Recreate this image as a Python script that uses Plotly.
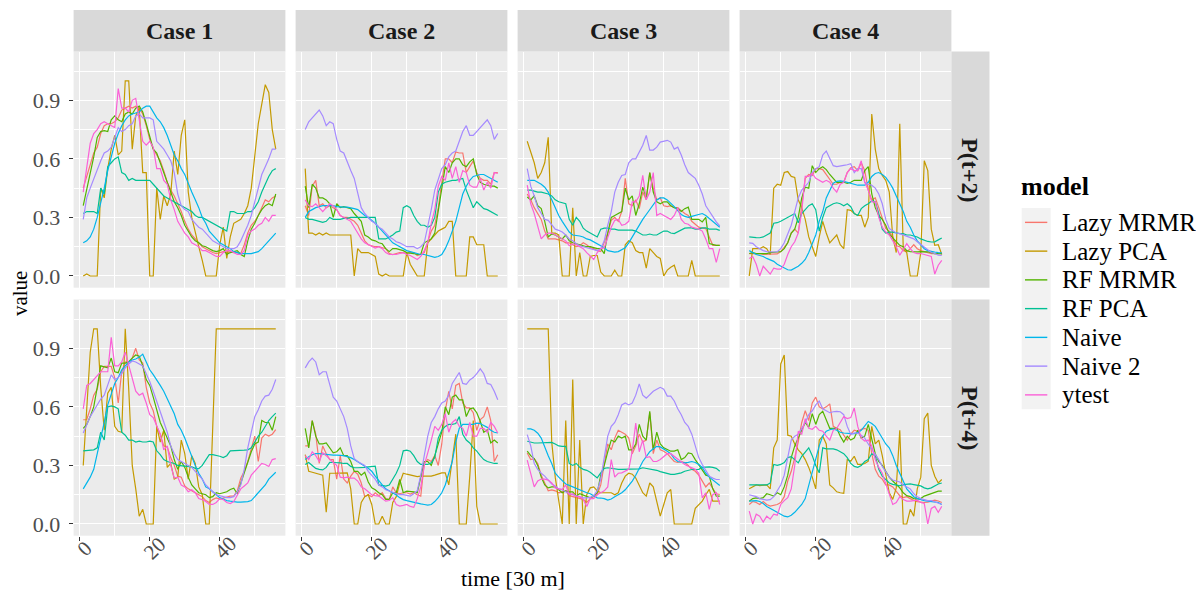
import plotly.graph_objects as go

PAGE_W, PAGE_H = 1204, 592
OFF = 8  # browser body margin offset
W, H = PAGE_W - OFF, PAGE_H - OFF
time = list(range(1, 57))
models = ["Lazy MRMR", "Lazy PCA", "RF MRMR", "RF PCA", "Naive", "Naive 2", "ytest"]
colors = ["#F8766D", "#C49A00", "#53B400", "#00C094", "#00B6EB", "#A58AFF", "#FB61D7"]
cases = ["Case 1", "Case 2", "Case 3", "Case 4"]
horizons = ["P(t+2)", "P(t+4)"]
x_ticks = [0, 20, 40]
y_ticks = [0.0, 0.3, 0.6, 0.9]
y_tick_text = ["0.0", "0.3", "0.6", "0.9"]

# ---------------- P(t+2) ----------------
c1_t2_lazy_mrmr = [.45,.51,.58,.63,.66,.73,.77,.78,.78,.79, .81,.85,.86,.87,.86,.87,.86,.83,.77,.70,
                   .65,.62,.59,.54,.48,.44,.41,.37,.33,.28, .24,.21,.19,.17,.15,.14,.13,.12,.115,.12,
                   .125,.12,.125,.12,.12,.115,.16,.22,.26,.28, .31,.35,.39,.38,.40,.41]
c1_t2_lazy_pca = [0,.01,0,0,0,.45,.40,.55,.65,.72, .62,.64,1.0,1.0,.65,.82,.86,.53,.53,0,
                  0,.45,.29,.41,.36,.42,.64,.52,.72,.80, .43,.30,.22,.15,.08,0,0,0,0,.16,
                  .25,.09,.20,.27,.28,.29,.32,.36,.45,.62, .78,.88,.98,.94,.75,.65]
c1_t2_rf_mrmr = [.36,.44,.52,.61,.71,.74,.745,.74,.80,.82, .80,.79,.83,.84,.83,.86,.87,.84,.78,.72,
                 .65,.63,.58,.53,.47,.43,.38,.35,.31,.26, .23,.20,.18,.17,.155,.15,.14,.13,.125,.13,
                 .14,.11,.12,.125,.13,.11,.10,.18,.24,.27, .31,.34,.36,.37,.36,.42]
c1_t2_rf_pca = [.32,.33,.33,.33,.32,.45,.42,.56,.58,.60, .61,.53,.52,.49,.50,.49,.49,.49,.49,.49,
                .47,.45,.43,.41,.40,.39,.38,.37,.36,.35, .34,.33,.31,.30,.30,.29,.28,.27,.26,.25,
                .24,.23,.33,.33,.32,.32,.32,.33,.33,.35, .38,.43,.47,.51,.54,.55]
c1_t2_naive = [.17,.18,.20,.24,.30,.37,.45,.54,.61,.68, .73,.77,.80,.82,.83,.835,.84,.86,.87,.87,
               .84,.81,.79,.76,.72,.67,.62,.59,.55,.52, .47,.43,.39,.35,.30,.27,.23,.21,.19,.17,
               .16,.15,.14,.125,.12,.115,.115,.115,.115,.12, .125,.14,.16,.18,.20,.22]
c1_t2_naive2 = [.29,.40,.45,.50,.54,.59,.63,.64,.66,.71, .76,.74,.75,.77,.78,.82,.83,.81,.81,.81,
                .80,.69,.67,.65,.62,.59,.53,.42,.36,.34, .33,.29,.27,.25,.24,.22,.20,.18,.17,.16,
                .15,.14,.14,.14,.15,.18,.22,.26,.31,.38, .45,.52,.56,.60,.65,.65]
c1_t2_ytest = [.43,.57,.68,.73,.75,.78,.79,.78,.77,.76, .96,.86,.86,.84,.90,.91,.80,.69,.67,.69,
               .66,.55,.55,.49,.47,.39,.34,.28,.25,.22, .20,.17,.16,.15,.13,.13,.12,.11,.10,.10,
               .12,.13,.13,.12,.11,.11,.13,.21,.23,.24, .26,.27,.30,.28,.31,.31]

c2_t2_lazy_mrmr = [.36,.31,.46,.49,.36,.37,.35,.36,.35,.34, .31,.30,.30,.29,.28,.26,.22,.18,.16,.155,
                   .15,.15,.145,.14,.115,.11,.115,.12,.12,.115, .12,.12,.105,.11,.12,.17,.23,.26,.35,.48,
                   .60,.60,.58,.635,.63,.63,.53,.56,.59,.53, .50,.49,.49,.47,.53,.53]
c2_t2_lazy_pca = [.55,.22,.22,.21,.22,.21,.22,.21,.21,.21, .21,.21,.21,.21,0,.14,.12,.12,.12,.11,
                  .10,.01,0,.01,0,0,0,0,0,.12, .06,.03,0,0,0,.17,.19,.21,.23,.24,
                  .25,.28,.28,0,0,0,0,.20,.20,.16, .16,.16,0,0,0,0]
c2_t2_rf_mrmr = [.46,.35,.47,.45,.40,.40,.39,.37,.30,.37, .35,.355,.35,.345,.32,.30,.28,.21,.20,.185,
                 .18,.17,.165,.14,.125,.14,.14,.135,.13,.12, .118,.115,.11,.11,.17,.18,.19,.22,.33,.45,
                 .56,.53,.58,.60,.60,.57,.56,.585,.60,.52, .48,.47,.465,.46,.46,.45]
c2_t2_rf_pca = [.30,.29,.29,.285,.28,.275,.28,.30,.29,.29, .29,.295,.295,.30,.30,.30,.30,.30,.30,.30,
                .30,.19,.19,.19,.20,.21,.225,.23,.35,.36, .35,.31,.28,.26,.26,.25,.26,.30,.43,.47,
                .48,.485,.49,.49,.495,.50,.44,.39,.35,.38, .36,.345,.34,.33,.32,.31]
c2_t2_naive = [.30,.33,.34,.35,.355,.36,.36,.36,.36,.355, .353,.353,.353,.35,.345,.34,.325,.31,.30,.285,
               .27,.25,.23,.21,.19,.17,.16,.15,.14,.13, .125,.12,.115,.11,.11,.105,.10,.095,.10,.11,
               .14,.18,.23,.28,.35,.42,.46,.49,.51,.515, .52,.52,.51,.50,.49,.48]
c2_t2_naive2 = [.75,.79,.81,.83,.85,.82,.77,.79,.78,.70, .64,.63,.58,.54,.50,.42,.35,.32,.30,.28,
                .27,.25,.24,.22,.20,.19,.175,.17,.16,.15, .15,.15,.14,.15,.17,.25,.34,.44,.50,.55,
                .57,.61,.63,.64,.69,.74,.77,.72,.72,.74, .76,.78,.80,.77,.70,.73]
c2_t2_ytest = [.39,.36,.355,.37,.35,.33,.35,.37,.36,.34, .31,.30,.29,.28,.25,.22,.19,.17,.16,.15,
               .143,.15,.14,.12,.11,.11,.11,.115,.12,.11, .105,.095,.085,.10,.13,.17,.27,.34,.46,.51,
               .49,.58,.50,.56,.48,.54,.53,.465,.455,.455, .50,.44,.48,.45,.53,.525]

c3_t2_lazy_mrmr = [.42,.39,.35,.32,.29,.23,.19,.19,.19,.185, .18,.17,.17,.16,.15,.155,.17,.16,.145,.14,
                   .13,.125,.17,.22,.285,.30,.28,.33,.50,.37, .36,.39,.345,.43,.39,.53,.45,.39,.40,.36,
                   .355,.36,.35,.35,.335,.32,.31,.28,.265,.25, .245,.243,.20,.157,.157,.157]
c3_t2_lazy_pca = [.69,.63,.58,.50,.53,.58,.71,.22,.22,.21, 0,0,0,.35,0,.12,0,0,.10,.105,
                  .105,.02,0,0,0,.03,0,0,.16,.18, .17,.13,.12,.12,.04,.14,.12,.10,.09,0,
                  .03,.045,.055,0,0,0,0,.08,0,0, 0,0,0,0,0,0]
c3_t2_rf_mrmr = [.405,.39,.41,.36,.345,.28,.20,.215,.21,.20, .19,.21,.18,.17,.165,.16,.155,.15,.15,.145,
                 .14,.14,.115,.22,.30,.31,.32,.33,.45,.39, .41,.31,.37,.455,.40,.53,.43,.38,.37,.38,
                 .38,.36,.35,.345,.33,.345,.353,.29,.29,.29, .277,.30,.166,.16,.157,.157]
c3_t2_rf_pca = [.44,.44,.435,.43,.43,.425,.42,.41,.39,.38, .375,.37,.29,.26,.30,.28,.245,.23,.22,.21,
                .20,.24,.245,.245,.24,.24,.235,.235,.235,.235, .235,.23,.22,.21,.21,.215,.21,.21,.22,.23,
                .23,.22,.217,.225,.235,.245,.246,.246,.24,.24, .246,.246,.24,.24,.24,.234]
c3_t2_naive = [.49,.49,.49,.48,.47,.455,.43,.39,.35,.31, .28,.25,.225,.21,.208,.205,.20,.19,.185,.175,
               .165,.155,.145,.13,.125,.122,.125,.135,.145,.17, .20,.235,.265,.29,.315,.34,.365,.39,.40,.40,
               .39,.375,.355,.335,.315,.305,.30,.305,.31,.315, .32,.31,.295,.28,.26,.25]
c3_t2_naive2 = [.55,.46,.41,.35,.32,.29,.285,.26,.24,.234, .225,.21,.19,.18,.165,.155,.15,.145,.14,.135,
                .13,.14,.18,.26,.33,.43,.48,.515,.52,.58, .60,.60,.635,.67,.72,.645,.645,.66,.686,.69,
                .695,.686,.65,.66,.62,.57,.53,.515,.50,.465, .42,.36,.33,.30,.277,.256]
c3_t2_ytest = [.465,.37,.32,.26,.19,.21,.22,.22,.21,.20, .19,.18,.155,.165,.16,.15,.14,.12,.10,.085,
               .12,.14,.145,.20,.25,.285,.29,.26,.265,.28, .38,.38,.41,.515,.39,.43,.53,.31,.32,.31,
               .30,.29,.31,.35,.29,.27,.265,.25,.245,.24, .23,.19,.14,.14,.07,.14]

c4_t2_lazy_mrmr = [.115,.115,.115,.115,.11,.11,.11,.11,.113,.125, .15,.17,.22,.24,.22,.36,.50,.52,.515,.55,
                   .55,.545,.52,.49,.47,.47,.48,.48,.53,.555, .56,.54,.58,.54,.44,.39,.40,.35,.30,.243,
                   .23,.20,.155,.15,.13,.125,.14,.16,.14,.13, .125,.12,.115,.115,.115,.115]
c4_t2_lazy_pca = [0,.14,.14,.14,.15,.14,.11,.45,.47,.465, .53,.535,.51,.505,.39,.35,.29,.20,.15,.10,
                  .20,.28,.22,.17,.19,.21,.16,.14,.34,.336, .32,.31,.31,.25,.30,.83,.65,.55,.515,.49,
                  .43,.20,.12,.78,.14,.12,0,0,0,.12, .59,.54,.24,.157,.16,.11]
c4_t2_rf_mrmr = [.115,.12,.115,.115,.115,.115,.12,.123,.123,.125, .14,.17,.22,.24,.30,.40,.455,.45,.565,.53,
                 .55,.56,.545,.52,.50,.48,.48,.48,.475,.48, .49,.49,.49,.54,.56,.42,.35,.31,.29,.26,
                 .215,.195,.175,.157,.15,.13,.125,.123,.124,.125, .126,.124,.12,.115,.115,.115]
c4_t2_rf_pca = [.20,.20,.197,.196,.20,.21,.22,.27,.273,.28, .29,.30,.31,.32,.273,.32,.34,.36,.37,.34,
                .23,.30,.35,.36,.37,.375,.37,.36,.37,.355, .32,.31,.345,.36,.37,.385,.38,.32,.24,.22,
                .225,.225,.22,.217,.217,.21,.21,.205,.20,.19, .183,.177,.174,.175,.185,.195]
c4_t2_naive = [.13,.12,.11,.105,.10,.09,.083,.075,.06,.05, .04,.032,.03,.04,.05,.065,.085,.12,.17,.21,
               .28,.33,.40,.44,.475,.485,.487,.485,.48,.475, .47,.465,.465,.465,.48,.51,.525,.53,.52,.505,
               .48,.45,.41,.37,.33,.28,.25,.21,.18,.16, .14,.13,.125,.123,.12,.118]
c4_t2_naive2 = [.17,.167,.15,.14,.13,.125,.123,.123,.125,.14, .17,.22,.26,.33,.40,.44,.46,.48,.53,.55,
                .56,.62,.64,.60,.565,.56,.565,.567,.57,.575, .53,.55,.55,.48,.47,.465,.45,.42,.37,.29,
                .243,.23,.22,.217,.21,.205,.20,.19,.175,.16, .145,.13,.12,.115,.107,.106]
c4_t2_ytest = [.09,.10,.06,0,.05,.03,.01,.04,.035,.035, .06,.11,.15,.175,.22,.33,.51,.51,.525,.50,
               .49,.48,.49,.48,.45,.43,.47,.48,.53,.55, .54,.54,.59,.48,.44,.38,.38,.30,.25,.225,
               .21,.183,.15,.106,.14,.166,.14,.12,.115,.115, .11,.105,.10,.01,.055,.08]

# ---------------- P(t+4) ----------------
c1_t4_lazy_mrmr = [.534,.535,.59,.66,.69,.78,.807,.807,.807,.75, .62,.78,.83,.832,.85,.90,.84,.825,.70,.62,
                   .58,.50,.46,.40,.395,.34,.30,.245,.24,.195, .18,.17,.16,.152,.14,.12,.11,.125,.134,.128,
                   .134,.14,.143,.143,.17,.235,.27,.32,.38,.45, .32,.44,.46,.45,.46,.483]
c1_t4_lazy_pca = [.30,.57,.88,1.0,1.0,.70,.48,.67,.70,.50, .475,.47,1.0,.69,.30,.18,.04,.075,0,0,
                  0,.50,.42,.48,.29,.31,.23,.24,.43,.36, .23,.35,.31,.19,.15,0,0,.50,1.0,1.0,
                  1.0,1.0,1.0,1.0,1.0,1.0,1.0,1.0,1.0,1.0, 1.0,1.0,1.0,1.0,1.0,1.0]
c1_t4_rf_mrmr = [.49,.51,.55,.60,.70,.81,.805,.80,.85,.78, .775,.824,.824,.83,.85,.866,.86,.81,.74,.71,
                 .65,.58,.52,.48,.44,.40,.33,.28,.32,.29, .24,.20,.18,.16,.155,.15,.135,.14,.16,.155,
                 .16,.165,.177,.183,.155,.21,.27,.32,.37,.41, .42,.53,.52,.52,.48,.55]
c1_t4_rf_pca = [.375,.376,.376,.38,.39,.47,.43,.60,.605,.60, .59,.47,.455,.43,.43,.42,.424,.42,.42,.424,
                .42,.375,.355,.33,.32,.315,.31,.30,.298,.297, .296,.293,.285,.283,.30,.33,.355,.355,.352,.347,
                .34,.35,.375,.375,.377,.377,.378,.38,.39,.42, .45,.47,.50,.53,.55,.568]
c1_t4_naive = [.18,.21,.24,.28,.36,.43,.52,.61,.67,.72, .75,.79,.81,.83,.84,.845,.855,.87,.83,.79,
               .765,.74,.71,.68,.64,.60,.565,.51,.48,.44, .39,.35,.30,.26,.23,.19,.18,.165,.15,.135,
               .128,.12,.117,.114,.112,.112,.113,.115,.12,.14, .16,.18,.20,.23,.25,.265]
c1_t4_naive2 = [.466,.51,.55,.58,.61,.64,.66,.71,.764,.74, .75,.77,.80,.82,.835,.83,.82,.81,.77,.73,
                .68,.63,.58,.52,.47,.40,.36,.33,.32,.31, .30,.29,.27,.25,.23,.20,.18,.165,.15,.143,
                .14,.135,.135,.14,.165,.20,.28,.39,.47,.55, .585,.63,.655,.66,.69,.74]
c1_t4_ytest = [.59,.71,.72,.74,.765,.78,.78,.78,.956,.81, .81,.83,.88,.81,.755,.68,.66,.67,.62,.56,
               .545,.50,.46,.38,.40,.30,.235,.24,.20,.19, .165,.175,.16,.13,.125,.115,.10,.10,.11,.13,
               .125,.11,.105,.115,.15,.18,.195,.21,.25,.27, .29,.31,.305,.295,.33,.335]

c2_t4_lazy_mrmr = [.40,.40,.53,.46,.31,.40,.36,.33,.33,.23, .35,.23,.21,.245,.27,.255,.21,.14,.15,.14,
                   .16,.145,.16,.13,.125,.19,.16,.155,.16,.16, .153,.16,.15,.143,.31,.33,.32,.35,.30,.41,
                   .58,.68,.59,.71,.72,.62,.595,.595,.57,.48, .535,.55,.60,.53,.32,.355]
c2_t4_lazy_pca = [.355,.27,.265,.26,.255,.25,.06,.26,.26,.26, .262,.262,.262,.18,0,0,.11,.14,.15,.10,
                  0,0,.04,0,0,.11,.14,.21,.26,.255, .25,.245,.243,.245,.245,.245,.245,.25,.255,.262,
                  .262,.20,.33,.46,0,0,0,.245,.53,.09, 0,0,0,0,0,0]
c2_t4_rf_mrmr = [.49,.39,.53,.45,.41,.41,.415,.39,.365,.37, .39,.35,.35,.32,.27,.27,.25,.265,.215,.185,
                 .175,.16,.15,.126,.126,.16,.16,.228,.16,.168, .168,.165,.16,.236,.32,.32,.30,.35,.415,.47,
                 .60,.56,.65,.66,.636,.636,.55,.59,.594,.57, .526,.47,.483,.415,.43,.415]
c2_t4_rf_pca = [.305,.315,.30,.285,.28,.277,.29,.316,.315,.315, .313,.31,.31,.295,.288,.288,.288,.29,.293,.295,
                .296,.20,.195,.194,.20,.23,.26,.30,.375,.378, .373,.35,.32,.305,.305,.305,.313,.34,.44,.48,
                .50,.51,.51,.515,.55,.46,.43,.415,.39,.373, .35,.33,.32,.315,.31,.31]
c2_t4_naive = [.33,.345,.355,.36,.36,.358,.355,.353,.353,.353, .352,.35,.345,.34,.33,.32,.31,.296,.285,.27,
               .245,.22,.20,.18,.17,.158,.148,.135,.125,.12, .115,.11,.107,.103,.10,.097,.10,.115,.135,.16,
               .20,.26,.32,.42,.49,.51,.51,.51,.51,.517, .515,.505,.495,.48,.47,.466]
c2_t4_naive2 = [.80,.83,.85,.83,.765,.78,.78,.72,.65,.63, .59,.55,.49,.40,.335,.32,.31,.30,.27,.25,
                .23,.20,.19,.175,.168,.16,.155,.15,.15,.145, .143,.155,.17,.25,.36,.45,.52,.55,.59,.62,
                .63,.66,.72,.75,.776,.72,.715,.738,.75,.77, .795,.77,.72,.715,.68,.636]
c2_t4_ytest = [.35,.33,.37,.35,.32,.365,.35,.33,.315,.30, .24,.236,.24,.235,.235,.22,.19,.18,.165,.15,
               .145,.143,.13,.117,.12,.135,.10,.092,.095,.10, .09,.085,.13,.19,.30,.36,.43,.50,.48,.51,
               .565,.47,.52,.535,.50,.49,.45,.52,.45,.45, .49,.49,.47,.52,.50,.466]

c3_t4_lazy_mrmr = [.364,.33,.335,.31,.25,.21,.17,.175,.17,.16, .165,.17,.145,.14,.135,.13,.126,.11,.13,.14,
                   .151,.20,.30,.41,.38,.44,.48,.47,.46,.44, .36,.40,.46,.42,.43,.57,.36,.43,.38,.373,
                   .36,.34,.32,.315,.32,.315,.30,.28,.27,.25, .22,.19,.21,.18,.155,.151]
c3_t4_lazy_pca = [1.0,1.0,1.0,1.0,1.0,1.0,1.0,.42,.24,.12, 0,.53,0,.74,0,.43,0,.15,.185,.19,
                  .17,.16,.16,.16,.16,.15,.16,.21,.245,.26, .255,.235,.20,.16,.143,.21,.19,.11,.04,.10,
                  .16,.177,0,0,0,0,0,0,.08,.10, .117,.15,.177,.117,.117,.117]
c3_t4_rf_mrmr = [.373,.35,.335,.30,.24,.20,.185,.19,.19,.177, .16,.17,.165,.165,.143,.155,.147,.143,.134,.145,
                 .16,.25,.30,.37,.43,.42,.45,.44,.45,.38, .38,.41,.51,.45,.43,.577,.38,.47,.41,.39,
                 .38,.373,.373,.38,.33,.34,.364,.36,.33,.305, .28,.25,.245,.18,.143,.143]
c3_t4_rf_pca = [.424,.42,.415,.415,.415,.416,.418,.418,.41,.40, .398,.398,.31,.30,.31,.29,.28,.275,.265,.25,
                .236,.262,.285,.288,.285,.28,.28,.28,.28,.28, .282,.28,.282,.288,.285,.283,.28,.275,.268,.262,
                .258,.254,.254,.258,.262,.27,.275,.279,.279,.28, .29,.293,.293,.29,.285,.27]
c3_t4_naive = [.487,.487,.48,.465,.44,.39,.35,.31,.26,.24, .22,.205,.198,.19,.182,.175,.168,.16,.155,.145,
               .134,.133,.13,.122,.128,.14,.15,.16,.175,.195, .22,.25,.285,.32,.345,.37,.385,.398,.395,.385,
               .373,.36,.335,.32,.315,.313,.316,.32,.315,.305, .29,.26,.24,.225,.21,.197]
c3_t4_naive2 = [.458,.40,.31,.28,.26,.245,.225,.205,.195,.18, .175,.165,.155,.15,.145,.138,.134,.134,.136,.145,
                .17,.23,.33,.45,.50,.52,.56,.61,.62,.61, .62,.66,.718,.66,.645,.66,.68,.69,.70,.69,
                .655,.655,.63,.59,.56,.52,.50,.46,.40,.34, .305,.275,.245,.235,.228,.228]
c3_t4_ytest = [.327,.26,.19,.22,.23,.23,.225,.21,.185,.18, .177,.20,.15,.155,.14,.14,.126,.09,.13,.13,
               .15,.16,.17,.19,.33,.24,.26,.262,.27,.28, .373,.517,.37,.43,.34,.345,.32,.32,.33,.347,
               .36,.36,.347,.33,.32,.305,.296,.29,.28,.26, .134,.16,.075,.15,.16,.10]

c4_t4_lazy_mrmr = [.10,.115,.11,.10,.115,.10,.092,.095,.10,.11, .14,.22,.27,.34,.42,.52,.58,.53,.62,.65,
                   .60,.59,.60,.615,.50,.49,.483,.455,.43,.46, .48,.475,.485,.49,.48,.36,.28,.245,.23,.20,
                   .20,.19,.165,.145,.135,.14,.13,.12,.115,.112, .11,.112,.117,.122,.118,.11]
c4_t4_lazy_pca = [.18,.19,.20,.197,.197,.20,.18,.39,.43,.82, .866,.455,.45,.41,.38,.36,.33,.29,.24,.18,
                  .43,.45,.41,.20,.185,.165,.16,.157,.33,.322, .347,.305,.305,.31,.322,.50,.41,.43,.35,.26,
                  .16,.126,.185,.48,0,0,.075,.04,.18,.24, .54,.568,.30,.245,.21,.228]
c4_t4_rf_mrmr = [.117,.13,.134,.13,.135,.155,.15,.143,.16,.15, .19,.25,.34,.40,.44,.48,.52,.495,.565,.51,
                 .56,.577,.53,.49,.49,.49,.45,.42,.45,.43, .44,.48,.44,.45,.51,.43,.36,.32,.30,.27,
                 .24,.22,.205,.185,.16,.145,.14,.13,.129,.13, .143,.15,.155,.16,.168,.168]
c4_t4_rf_pca = [.20,.20,.20,.197,.197,.20,.21,.305,.30,.305, .315,.34,.345,.33,.313,.347,.37,.39,.35,.30,
                .262,.39,.385,.385,.385,.38,.372,.36,.34,.31, .295,.29,.30,.32,.33,.36,.35,.28,.245,.225,
                .21,.203,.198,.196,.202,.205,.205,.202,.20,.195, .185,.18,.185,.195,.205,.21]
c4_t4_naive = [.117,.12,.12,.115,.105,.09,.08,.07,.058,.048, .04,.036,.045,.06,.08,.10,.13,.20,.26,.33,
               .40,.45,.475,.483,.487,.48,.47,.466,.463,.463, .463,.468,.48,.50,.525,.515,.50,.47,.44,.41,
               .39,.35,.30,.26,.22,.18,.16,.14,.13,.124, .12,.117,.115,.113,.11,.10]
c4_t4_naive2 = [.15,.145,.14,.13,.125,.122,.125,.14,.17,.20, .25,.34,.43,.45,.46,.49,.52,.56,.58,.61,
                .63,.59,.58,.57,.575,.577,.575,.56,.50,.46, .465,.466,.455,.44,.41,.385,.355,.33,.295,.265,
                .24,.225,.22,.215,.20,.19,.18,.155,.14,.13, .123,.12,.12,.113,.105,.10]
c4_t4_ytest = [.066,0,.05,.04,.01,.04,.025,.05,.045,.10, .12,.135,.18,.30,.475,.46,.54,.49,.485,.50,
               .48,.475,.45,.43,.48,.49,.52,.55,.54,.545, .594,.50,.44,.425,.43,.40,.33,.29,.26,.21,
               .16,.10,.11,.14,.125,.117,.117,.12,.122,.11, .105,0,.08,.09,.06,.09]

panels = {
    (0, 0): [c1_t2_lazy_mrmr, c1_t2_lazy_pca, c1_t2_rf_mrmr, c1_t2_rf_pca, c1_t2_naive, c1_t2_naive2, c1_t2_ytest],
    (0, 1): [c2_t2_lazy_mrmr, c2_t2_lazy_pca, c2_t2_rf_mrmr, c2_t2_rf_pca, c2_t2_naive, c2_t2_naive2, c2_t2_ytest],
    (0, 2): [c3_t2_lazy_mrmr, c3_t2_lazy_pca, c3_t2_rf_mrmr, c3_t2_rf_pca, c3_t2_naive, c3_t2_naive2, c3_t2_ytest],
    (0, 3): [c4_t2_lazy_mrmr, c4_t2_lazy_pca, c4_t2_rf_mrmr, c4_t2_rf_pca, c4_t2_naive, c4_t2_naive2, c4_t2_ytest],
    (1, 0): [c1_t4_lazy_mrmr, c1_t4_lazy_pca, c1_t4_rf_mrmr, c1_t4_rf_pca, c1_t4_naive, c1_t4_naive2, c1_t4_ytest],
    (1, 1): [c2_t4_lazy_mrmr, c2_t4_lazy_pca, c2_t4_rf_mrmr, c2_t4_rf_pca, c2_t4_naive, c2_t4_naive2, c2_t4_ytest],
    (1, 2): [c3_t4_lazy_mrmr, c3_t4_lazy_pca, c3_t4_rf_mrmr, c3_t4_rf_pca, c3_t4_naive, c3_t4_naive2, c3_t4_ytest],
    (1, 3): [c4_t4_lazy_mrmr, c4_t4_lazy_pca, c4_t4_rf_mrmr, c4_t4_rf_pca, c4_t4_naive, c4_t4_naive2, c4_t4_ytest],
}

FONT = "Liberation Serif"
# target page-pixel positions of the panels
col_px = [(73.6, 285.4), (295.6, 507.4), (517.6, 729.4), (739.6, 951.4)]
row_px = [(51.5, 287.7), (299.5, 535.7)]


def fx(x):
    return (x - OFF) / W


def fy(y):
    return 1 - (y - OFF) / H


fig = go.Figure()
layout = {}
annotations = []
shapes = []

for r in range(2):
    for c in range(4):
        idx = r * 4 + c + 1
        xa = "x" if idx == 1 else f"x{idx}"
        ya = "y" if idx == 1 else f"y{idx}"
        for name, col, vals in zip(models, colors, panels[(r, c)]):
            fig.add_trace(go.Scatter(x=time, y=vals, mode="lines", name=name,
                                     line=dict(color=col, width=1.2),
                                     xaxis=xa, yaxis=ya, showlegend=False,
                                     hoverinfo="skip"))
        xk = "xaxis" if idx == 1 else f"xaxis{idx}"
        yk = "yaxis" if idx == 1 else f"yaxis{idx}"
        layout[xk] = dict(
            domain=[fx(col_px[c][0]), fx(col_px[c][1])], anchor=ya, automargin=False,
            range=[-1.75, 58.75], tickvals=x_ticks, showticklabels=False,
            ticks="outside" if r == 1 else "", ticklen=4, tickwidth=1, tickcolor="#333333",
            showgrid=True, gridcolor="white", gridwidth=1.4, zeroline=False, showline=False,
            minor=dict(tickvals=[10, 30, 50], showgrid=True, gridcolor="white", gridwidth=0.7, ticks=""),
        )
        layout[yk] = dict(
            domain=[fy(row_px[r][1]), fy(row_px[r][0])], anchor=xa, automargin=False,
            range=[-0.06, 1.15], tickvals=y_ticks, ticktext=y_tick_text,
            showticklabels=(c == 0), ticks="outside" if c == 0 else "",
            ticklen=4, tickwidth=1, tickcolor="#333333", ticklabelstandoff=4,
            tickfont=dict(family=FONT, size=22, color="#4D4D4D"),
            showgrid=True, gridcolor="white", gridwidth=1.4, zeroline=False, showline=False,
            minor=dict(tickvals=[0.15, 0.45, 0.75, 1.05], showgrid=True, gridcolor="white",
                       gridwidth=0.7, ticks=""),
        )
        if r == 1:
            for t in x_ticks:
                annotations.append(dict(
                    x=t + 1.5, xref=xa, y=fy(548), yref="paper", text=str(t),
                    textangle=-45, showarrow=False, xanchor="center", yanchor="middle",
                    font=dict(family=FONT, size=21, color="#4D4D4D")))

# top strips
for c, name in enumerate(cases):
    shapes.append(dict(type="rect", xref="paper", yref="paper",
                       x0=fx(col_px[c][0]), x1=fx(col_px[c][1]), y0=fy(51.5), y1=fy(10),
                       fillcolor="#D9D9D9", line=dict(width=0), layer="below"))
    annotations.append(dict(x=fx((col_px[c][0] + col_px[c][1]) / 2), y=fy(31), xref="paper", yref="paper",
                            text=f"<b>{name}</b>", showarrow=False, xanchor="center", yanchor="middle",
                            font=dict(family=FONT, size=24, color="#1A1A1A")))
# right strips
for r, name in enumerate(horizons):
    shapes.append(dict(type="rect", xref="paper", yref="paper",
                       x0=fx(951.4), x1=fx(989.5), y0=fy(row_px[r][1]), y1=fy(row_px[r][0]),
                       fillcolor="#D9D9D9", line=dict(width=0), layer="below"))
    annotations.append(dict(x=fx(970.5), y=fy((row_px[r][0] + row_px[r][1]) / 2), xref="paper", yref="paper",
                            text=f"<b>{name}</b>", showarrow=False, textangle=90,
                            xanchor="center", yanchor="middle",
                            font=dict(family=FONT, size=24, color="#1A1A1A")))

# axis titles
annotations.append(dict(x=fx(512.5), y=fy(578), xref="paper", yref="paper", text="time [30 m]",
                        showarrow=False, xanchor="center", yanchor="middle",
                        font=dict(family=FONT, size=22, color="black")))
annotations.append(dict(x=fx(19.5), y=fy(293.6), xref="paper", yref="paper", text="value",
                        showarrow=False, textangle=-90, xanchor="center", yanchor="middle",
                        font=dict(family=FONT, size=21, color="black")))

# legend (drawn manually)
annotations.append(dict(x=fx(1019), y=fy(187), xref="paper", yref="paper", text="<b>model</b>",
                        showarrow=False, xanchor="left", yanchor="middle",
                        font=dict(family=FONT, size=26, color="black")))
key_top = 208.0
key_h = 28.75
shapes.append(dict(type="rect", xref="paper", yref="paper", x0=fx(1021.7), x1=fx(1050.7),
                   y0=fy(key_top + 7 * key_h), y1=fy(key_top), fillcolor="#F2F2F2",
                   line=dict(width=0), layer="below"))
for i, (name, col) in enumerate(zip(models, colors)):
    yc = key_top + key_h * (i + 0.5)
    shapes.append(dict(type="line", xref="paper", yref="paper", x0=fx(1025), x1=fx(1047.3),
                       y0=fy(yc), y1=fy(yc), line=dict(color=col, width=1.4)))
    annotations.append(dict(x=fx(1060), y=fy(yc), xref="paper", yref="paper", text=name,
                            showarrow=False, xanchor="left", yanchor="middle",
                            font=dict(family=FONT, size=25, color="black")))

fig.update_layout(**layout)
fig.update_layout(width=W, height=H, margin=dict(l=0, r=0, t=0, b=0, autoexpand=False),
                  paper_bgcolor="white", plot_bgcolor="#EBEBEB",
                  showlegend=False, annotations=annotations, shapes=shapes,
                  font=dict(family=FONT))
fig.write_html("out.html")
